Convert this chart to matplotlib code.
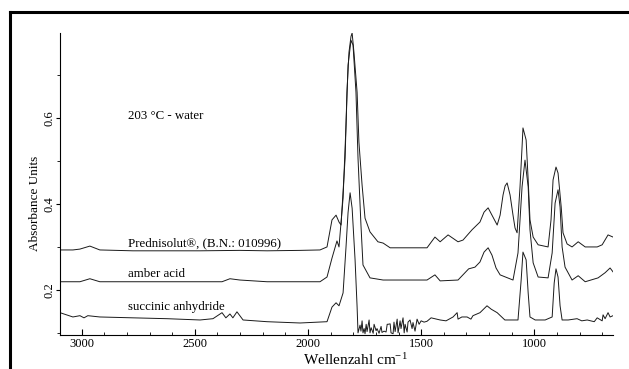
import numpy as np
import matplotlib.pyplot as plt
from matplotlib.lines import Line2D
from matplotlib.ticker import MultipleLocator

plt.rcParams['font.family'] = ['Liberation Serif', 'DejaVu Serif']
plt.rcParams['mathtext.default'] = 'regular'

# Prednisolut (B.N.: 010996)
pred_wn = [3096, 3039, 3008, 2964, 2920, 2774, 2623, 2477, 2301, 2181, 2035, 1947, 1916,
           1894, 1876, 1863, 1854, 1836, 1828, 1819, 1810, 1805, 1797, 1783, 1775, 1761,
           1748, 1726, 1691, 1668, 1637, 1593, 1505, 1474, 1439, 1416, 1381, 1337, 1315,
           1275, 1240, 1222, 1204, 1187, 1164, 1151, 1138, 1129, 1120, 1107, 1094, 1085,
           1076, 1063, 1054, 1050, 1036, 1027, 1019, 1005, 983, 939, 926, 917, 904, 895,
           881, 873, 855, 833, 806, 775, 722, 700, 674, 652]
pred_abs = [0.293, 0.293, 0.295, 0.302, 0.293, 0.291, 0.291, 0.291, 0.292, 0.291, 0.292, 0.293, 0.300,
            0.363, 0.374, 0.358, 0.351, 0.507, 0.660, 0.753, 0.790, 0.798, 0.753, 0.660, 0.544, 0.444,
            0.367, 0.335, 0.312, 0.309, 0.298, 0.298, 0.298, 0.298, 0.323, 0.312, 0.328, 0.312, 0.316,
            0.340, 0.358, 0.381, 0.391, 0.374, 0.351, 0.374, 0.421, 0.442, 0.449, 0.421, 0.374, 0.344,
            0.333, 0.440, 0.533, 0.577, 0.549, 0.456, 0.363, 0.323, 0.305, 0.300, 0.363, 0.456, 0.486, 0.472,
            0.393, 0.333, 0.307, 0.300, 0.312, 0.300, 0.300, 0.305, 0.328, 0.323]

# amber acid
amber_wn = [3096, 3008, 2964, 2920, 2623, 2380, 2345, 2301, 2181, 2035, 1947, 1916, 1894,
            1872, 1863, 1845, 1832, 1823, 1810, 1801, 1788, 1779, 1766, 1757, 1726, 1668,
            1593, 1474, 1439, 1416, 1337, 1290, 1262, 1240, 1222, 1204, 1187, 1169, 1151,
            1094, 1072, 1054, 1041, 1027, 1019, 1005, 983, 939, 921, 908, 895, 886, 877,
            864, 833, 806, 775, 718, 687, 665, 652]
amber_abs = [0.219, 0.219, 0.226, 0.219, 0.219, 0.219, 0.226, 0.223, 0.219, 0.219, 0.219, 0.230, 0.274,
             0.314, 0.300, 0.414, 0.584, 0.723, 0.781, 0.770, 0.660, 0.507, 0.351, 0.258, 0.228, 0.223,
             0.223, 0.223, 0.235, 0.221, 0.223, 0.249, 0.253, 0.265, 0.288, 0.298, 0.281, 0.251, 0.235,
             0.223, 0.286, 0.440, 0.502, 0.440, 0.340, 0.263, 0.230, 0.228, 0.286, 0.402, 0.433, 0.393, 0.300,
             0.253, 0.223, 0.233, 0.219, 0.228, 0.240, 0.251, 0.242]

# succinic anhydride
succ_wn = [3096, 3039, 3008, 2990, 2973, 2920, 2774, 2623, 2477, 2420, 2380, 2363, 2345,
           2332, 2314, 2287, 2181, 2035, 1916, 1894, 1876, 1863, 1845, 1832, 1823, 1814,
           1805, 1792, 1783, 1779, 1770, 1766, 1761, 1757, 1752, 1748, 1743, 1739, 1730,
           1726, 1721, 1712, 1708, 1699, 1695, 1686, 1677, 1673, 1664, 1655, 1650, 1646,
           1637, 1633, 1624, 1620, 1615, 1606, 1602, 1593, 1589, 1580, 1575, 1571, 1562,
           1558, 1549, 1540, 1536, 1527, 1518, 1509, 1500, 1487, 1474, 1456, 1416, 1390,
           1359, 1341, 1337, 1320, 1297, 1280, 1271, 1240, 1209, 1190, 1164, 1130, 1094,
           1072, 1058, 1050, 1036, 1027, 1019, 996, 952, 921, 912, 904, 895, 886, 877,
           850, 811, 790, 766, 735, 722, 700, 696, 687, 674, 665, 652]
succ_abs = [0.147, 0.137, 0.140, 0.135, 0.140, 0.137, 0.135, 0.133, 0.130, 0.133, 0.147, 0.135, 0.144,
            0.135, 0.149, 0.130, 0.126, 0.123, 0.126, 0.160, 0.170, 0.163, 0.193, 0.300, 0.380, 0.426,
            0.390, 0.270, 0.160, 0.100, 0.118, 0.104, 0.128, 0.100, 0.110, 0.098, 0.120, 0.103, 0.130,
            0.100, 0.112, 0.099, 0.120, 0.105, 0.110, 0.099, 0.115, 0.101, 0.104, 0.102, 0.120, 0.120,
            0.121, 0.100, 0.098, 0.125, 0.103, 0.132, 0.100, 0.128, 0.110, 0.135, 0.100, 0.120, 0.102,
            0.125, 0.130, 0.110, 0.124, 0.104, 0.132, 0.120, 0.128, 0.125, 0.127, 0.135, 0.130, 0.128,
            0.137, 0.147, 0.132, 0.137, 0.137, 0.132, 0.140, 0.147, 0.163, 0.155, 0.147, 0.130, 0.130,
            0.130, 0.223, 0.288, 0.270, 0.193, 0.137, 0.130, 0.130, 0.137, 0.216, 0.249, 0.230, 0.163, 0.130,
            0.130, 0.133, 0.128, 0.130, 0.126, 0.135, 0.128, 0.142, 0.133, 0.147, 0.137, 0.140]

labels = ['Prednisolut®, (B.N.: 010996)', 'amber acid', 'succinic anhydride']
label_y = [0.309, 0.237, 0.160]

fig = plt.figure(figsize=(6.29, 3.69), dpi=100)
ax = fig.add_axes([0.0954, 0.0921, 0.8792, 0.8185])

for wn, ab in [(pred_wn, pred_abs), (amber_wn, amber_abs), (succ_wn, succ_abs)]:
    ax.plot(wn, ab, color='#1a1a1a', linewidth=0.7)

for lab, yy in zip(labels, label_y):
    ax.text(2796, yy, lab, fontsize=9.3, va='center')
ax.text(2796, 0.605, '203 °C - water', fontsize=9.3, va='center')

ax.set_xlim(3096, 652)
ax.set_ylim(0.095, 0.798)
ax.spines['top'].set_visible(False)
ax.spines['right'].set_visible(False)
ax.spines['left'].set_linewidth(0.8)
ax.spines['bottom'].set_linewidth(0.8)

ax.xaxis.set_major_locator(MultipleLocator(500))
ax.xaxis.set_minor_locator(MultipleLocator(100))
ax.set_yticks([0.2, 0.4, 0.6])
ax.set_yticklabels(['0.2', '0.4', '0.6'], rotation=90, va='center')
ax.yaxis.set_minor_locator(MultipleLocator(0.1))
ax.tick_params(axis='x', which='both', direction='in', labelsize=9, pad=2)
ax.tick_params(axis='x', which='major', length=4)
ax.tick_params(axis='x', which='minor', length=2)
ax.tick_params(axis='y', which='both', direction='out', labelsize=9, pad=0.5)
ax.tick_params(axis='y', which='major', length=3)
ax.tick_params(axis='y', which='minor', length=2)

fig.text(35 / 629, 1 - 203 / 369, 'Absorbance Units', fontsize=9.5, rotation=90,
         ha='center', va='center')
fig.text(355 / 629, 1 - 360 / 369, 'Wellenzahl cm$^{-1}$', fontsize=11, ha='center', va='center')

# frame of the scanned page
fig.add_artist(Line2D([0.0159, 0.0159], [0, 0.9675], transform=fig.transFigure, color='k', linewidth=2.2))
fig.add_artist(Line2D([0.0159, 0.997], [0.9675, 0.9675], transform=fig.transFigure, color='k', linewidth=2.2))

fig.savefig('out.png', dpi=100)
